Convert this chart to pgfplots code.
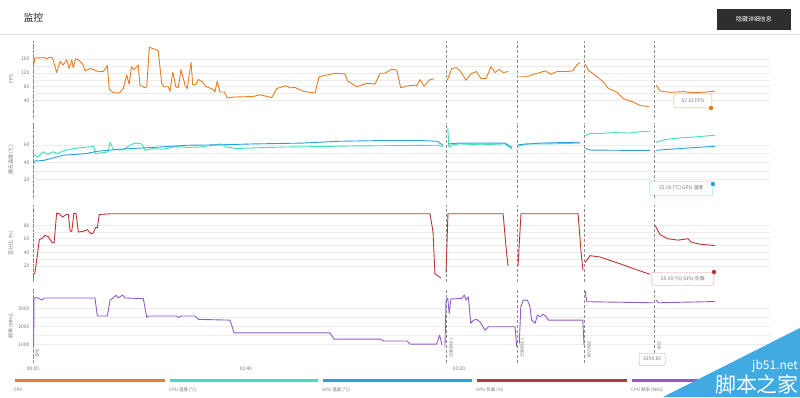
\documentclass[border=0pt]{standalone}
\usepackage{fontspec}
\setmainfont{Noto Sans CJK SC}
\usepackage{pgfplots}
\usepackage{pgfplotstable}
\pgfplotsset{compat=1.18}
\definecolor{cFPS}{RGB}{230,126,34}
\definecolor{cCPUT}{RGB}{64,224,190}
\definecolor{cGPUT}{RGB}{45,160,222}
\definecolor{cLoad}{RGB}{192,52,52}
\definecolor{cFreq}{RGB}{145,92,200}
\definecolor{gridc}{RGB}{236,236,236}
\definecolor{labc}{RGB}{120,120,120}
\definecolor{wm}{RGB}{64,170,225}
\tikzset{yaxisline/.style={black!45, densely dotted, line width=1.1bp}}

\pgfplotstableread{
t v
0 133
0.9 163
5.6 164
6.4 160
7.7 165
9.2 163
11.1 121
12.7 153
14.2 143
15.8 158
17.0 133
18.2 158
18.9 135
20.0 160
21.3 158
23.6 143
24.4 126
26.8 133
30.7 124
33.0 124
34.9 141
35.8 73
37.7 63
40.5 62
42.4 75
44.0 114
45.1 87
46.3 138
47.4 129
49.4 143
50.2 85
52.6 77
53.4 80
54.6 194
58.8 184
60.4 90
61.5 80
63.5 80
64.3 67
65.6 122
67.1 80
68.2 77
69.5 130
71.4 85
72.4 75
74.2 150
75.0 85
76.5 87
77.6 101
79.7 94
80.8 82
84.7 72
85.4 65
86.5 96
87.8 65
89.8 65
91.2 48
93.3 50
97.2 51
103.4 52
106.6 57
112.1 49
114.4 75
118.8 83
120.7 77
123.0 78
126.9 67
132.4 62
134.3 109
137.9 114
141.8 119
146.5 117
147.7 97
152.0 80
156.7 90
160.6 88
162.9 119
165.3 119
168.4 131
170.8 128
172.6 77
175.5 82
179.3 85
180.1 82
181.7 101
183.6 82
186.4 101
188.3 103
191 nan
194.5 99
196.6 133
198.9 135
200.8 124
203.3 99
205.5 117
208.0 124
210.3 104
212.7 104
215.0 138
216.9 121
218.9 130
220.8 121
223.2 124
225 nan
228.3 109
231.8 109
234.9 116
238.0 121
240.4 126
243.2 116
245.9 124
250.6 124
253.4 126
255.3 143
256.8 150
258 nan
259.2 146
260.7 128
264.7 109
267.8 94
270.1 75
274.0 65
277.1 46
281.8 36
285.0 26
289.3 23
291 nan
292.5 85
294.4 68
299.1 64
305.3 66
310.0 63
316.3 65
320.2 67.61
}\fpsdata

\pgfplotstableread{
t v
0 49
2.3 46
4.7 52
7.0 49
9.4 52
11.7 50
14.1 53
18.8 55.6
25.4 57.5
28.6 58
29.1 50
32.9 51
35.2 52
36.2 63
37.7 54.5
42.3 54
45.5 59.5
47.9 62
51.0 61
52.6 53.7
56.3 55.6
61.0 55
67.5 58
72.2 57
78.4 57.5
84.5 59.5
87.8 61
90.9 57.5
95.6 55.6
103.3 56.5
119.3 57.5
134.7 58
150.2 58.7
166.2 59
189.7 59.5
192.5 58
193.5 nan
194.7 80
195.3 57
196.7 60
200.5 61
209.9 60
221.6 61
224.9 55
226 nan
227.7 58
231 61
242.7 61
256.8 62
258 nan
259.2 71
261.5 73
266.2 73
273.2 74
280.3 73.5
285 75
289.7 75.7
291 nan
292.5 63
296.7 66
303.8 68
310.8 69
315.5 70
320.2 71
}\cputemp

\pgfplotstableread{
t v
0 38.5
0.9 41.5
4.8 42
9.5 45
14.2 48
25.2 50
29.9 52.5
40.8 55
56.3 57
72.2 59.5
87.8 60
103.3 61
126.8 62
142.7 64
166.2 65
181.7 65
189.7 64
192.5 59.5
193.5 nan
194.8 61
200.5 62
221.6 62
224.9 57
226 nan
227.7 60
238 62
256.8 63
258 nan
259.2 56
261.5 54
275.6 53.7
289.7 53.7
291 nan
292.5 53.7
296.7 54.5
308.5 56.5
320.2 58.3
}\gputemp

\pgfplotstableread{
t v
0 0
0.3 8
0.9 9
3.0 59
4.1 60
5.6 65
7.2 63
8.8 55
9.9 54
11.1 98
12.3 97
13.9 92
15.5 96
16.6 96
17.4 71.5
18.2 71
19.2 98
20.2 97
21.3 70
23.6 71
25.5 73.5
27.1 67.6
28.3 68.5
29.4 77
30.2 76
31.1 96
36.2 97
54.9 97
101.9 97
172.3 97
186.4 97
187.8 70
188.7 8
190.1 5
191.5 2
193 nan
193.9 10
194.8 97
219.3 97
220.7 97
222 50
223 20
225 nan
227.7 20
229.1 97
255.9 97
257.3 40
258.2 13
258.8 nan
259.2 25
261.5 35
266.2 33
275.6 23
281.7 16
289.7 7.4
291 nan
292 80
294.4 66
298.1 60
302.8 58
307.5 60
309 55
313.1 52
320.2 50
}\gpuload

\pgfplotstableread{
t v
0 3470
0.3 950
0.5 3600
2.5 3590
4.1 3470
5.6 3590
29.1 3590
30.2 2580
34.9 2580
36.2 3470
37.6 3590
39.0 3750
39.9 3590
42.1 3750
43.2 3590
51.8 3550
53.4 2500
54.1 2580
67.5 2580
68.2 2500
69.8 2580
76.1 2580
77.6 2390
92.5 2350
94.4 1640
139.4 1640
141.3 1290
162.9 1290
164.8 1180
175.6 1180
177 1010
189.5 1010
190.9 1510
192 950
192.8 nan
193.4 860
193.9 3470
194.7 3570
195.4 2730
196.2 3530
201.3 3570
202.5 3750
203.3 3470
204.4 3650
205.5 2170
206.8 2350
208.3 2390
209.9 2240
212.2 1790
213.8 1980
226.3 1980
227.1 860
227.6 nan
228.3 1050
229 3100
230.2 3470
232.1 3470
233.3 3100
234.1 2350
235.7 2170
236.8 2630
238 2540
239.6 2680
240.9 2540
241.9 2350
258.1 2350
258.7 950
259 nan
259.2 4000
260 3380
291.3 3320
291.9 nan
292.5 3470
293.6 3320
320.2 3390
}\cpufreq

\pgfplotsset{
  panel/.style={
    scale only axis, width=737bp, xmin=0, xmax=346,
    anchor=north west,
    axis line style={draw=none},
    tick style={draw=none},
    ymajorgrids, yminorgrids, minor y tick num=1,
    grid style={gridc, line width=0.6bp},
    minor grid style={gridc, line width=0.6bp},
    xtick=\empty,
    extra x ticks={0,194.1,227.2,258.7,291.5},
    extra x tick labels={},
    extra x tick style={grid=major, grid style={black!45, densely dashed, line width=0.8bp}},
    yticklabel style={font=\fontsize{5}{6}\selectfont, text=labc},
    xticklabel style={font=\fontsize{5}{6}\selectfont, text=labc},
    /pgf/number format/assume math mode=true,
    /pgf/number format/1000 sep={},
    scaled y ticks=false,
    unbounded coords=jump,
    every axis plot/.append style={line width=0.9bp, line join=round, mark=none},
  },
}

\begin{document}
\begin{tikzpicture}[x=1bp,y=1bp]
\path[use as bounding box, fill=white] (0,0) rectangle (800,-397);

% header
\node[anchor=west, font=\fontsize{10}{12}\selectfont, text=black!85] at (20,-18) {监控};
\draw[black!12, line width=0.8bp] (0,-34) -- (800,-34);
\fill[black!82] (717,-9) rectangle (791,-30);
\node[font=\fontsize{6}{7}\selectfont, text=white] at (754,-19.5) {隐藏详细信息};

% Panel 1: FPS
\begin{axis}[panel, at={(33bp,-41bp)}, height=77bp, ymin=-10, ymax=212, ytick={40,80,120,160}]
\addplot[cFPS] table[x=t,y=v] {\fpsdata};
\draw[yaxisline] (rel axis cs:0,0) -- (rel axis cs:0,1);
\end{axis}

% Panel 2: temperatures
\begin{axis}[panel, at={(33bp,-123bp)}, height=75bp, ymin=-1, ymax=85, ytick={20,40,60}]
\addplot[cCPUT] table[x=t,y=v] {\cputemp};
\addplot[cGPUT] table[x=t,y=v] {\gputemp};
\draw[yaxisline] (rel axis cs:0,0) -- (rel axis cs:0,1);
\end{axis}

% Panel 3: GPU load
\begin{axis}[panel, at={(33bp,-205bp)}, height=77bp, ymin=-4, ymax=110, ytick={20,40,60,80}]
\addplot[cLoad] table[x=t,y=v] {\gpuload};
\draw[yaxisline] (rel axis cs:0,0) -- (rel axis cs:0,1);
\end{axis}

% Panel 4: CPU frequency
\begin{axis}[panel, at={(33bp,-289bp)}, height=74bp, ymin=-50, ymax=4090, ytick={1000,2000,3000},
  xtick={0,100,200}, xticklabels={00:00,01:40,03:20}]
\addplot[cFreq] table[x=t,y=v] {\cpufreq};
\draw[yaxisline] (rel axis cs:0,0) -- (rel axis cs:0,1);
\end{axis}

% y labels
\begin{scope}[every node/.style={rotate=90, font=\fontsize{5}{6}\selectfont, text=labc}]
\node at (11,-79) {FPS};
\node at (11,-160) {摄氏温度 (°C)};
\node at (11,-243) {百分比 (\%)};
\node at (11,-326) {频率 (MHz)};
\end{scope}

% marker labels
\begin{scope}[every node/.style={rotate=90, anchor=west, font=\fontsize{4}{5}\selectfont, text=labc, inner sep=0.5bp}]
\node at (37,-358) {游戏};
\node at (451,-358) {记录测试 1};
\node at (522,-358) {记录测试 2};
\node at (589,-358) {标记测试};
\node at (659,-350) {标记};
\end{scope}

% legend
\draw[cFPS, line width=3bp] (15,-380) -- (165,-380);
\draw[cCPUT, line width=3bp] (170,-380) -- (318,-380);
\draw[cGPUT, line width=3bp] (323,-380) -- (472,-380);
\draw[cLoad, line width=3bp] (477,-380) -- (627,-380);
\draw[cFreq, line width=3bp] (632,-380) -- (782,-380);
\begin{scope}[every node/.style={anchor=west, font=\fontsize{4.5}{5}\selectfont, text=labc, inner sep=0}]
\node at (14,-390) {FPS};
\node at (169,-390) {CPU 温度 (°C)};
\node at (322,-390) {GPU 温度 (°C)};
\node at (476,-390) {GPU 负载 (\%)};
\node at (631,-390) {CPU 频率 (MHz)};
\end{scope}

% tooltips
\node[draw=cFPS!60, fill=white, rounded corners=1bp, font=\fontsize{5}{6}\selectfont, text=labc,
  anchor=south east, minimum height=14bp, minimum width=38bp, inner sep=1bp] at (712,-108) {67.61 FPS};
\fill[cFPS] (711,-108) circle (2.2);
\node[draw=cCPUT!80, fill=white, rounded corners=1bp, font=\fontsize{5}{6}\selectfont, text=labc,
  anchor=north east, minimum height=14bp, minimum width=63bp, inner sep=1bp] at (713,-181) {55.00 (°C) GPU 温度};
\fill[cGPUT] (713,-184) circle (2.2);
\node[draw=cLoad!50, fill=white, rounded corners=1bp, font=\fontsize{5}{6}\selectfont, text=labc,
  anchor=north east, minimum height=13bp, minimum width=62bp, inner sep=1bp] at (714,-272) {55.00 (\%) GPU 负载};
\fill[cLoad] (714,-272) circle (2.2);
\node[draw=cFreq!60, fill=white, rounded corners=1bp, font=\fontsize{5}{6}\selectfont, text=labc,
  anchor=north west, minimum height=12bp, minimum width=26bp, inner sep=1bp] at (639,-353) {3390.85};

% watermark
\fill[wm] (663,-397) -- (800,-328) -- (800,-397) -- cycle;
\node[anchor=east, font=\fontsize{12}{12}\selectfont, text=white, inner sep=0] at (798,-366) {jb51.net};
\node[anchor=east, font=\fontsize{21}{21}\selectfont, text=white, inner sep=0] at (799,-384) {脚本之家};
\end{tikzpicture}
\end{document}
